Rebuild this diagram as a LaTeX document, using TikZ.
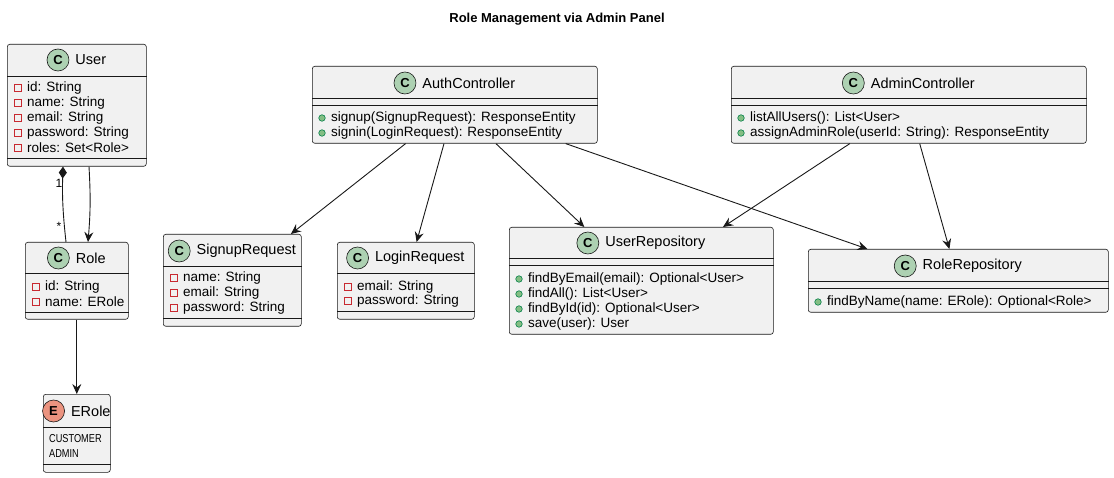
\documentclass[tikz,border=0pt]{standalone}
\usepackage{fontspec}
\setmainfont{Liberation Sans}
\newfontfamily\condfont[FakeStretch=0.8]{Liberation Sans}
\usepackage{tikz}
\usetikzlibrary{arrows.meta,calc,positioning}

\definecolor{boxfill}{HTML}{F1F1F1}
\definecolor{boxline}{HTML}{181818}
\definecolor{classspot}{HTML}{ADD1B2}
\definecolor{enumspot}{HTML}{EB937F}
\definecolor{privred}{HTML}{C82930}
\definecolor{pubfill}{HTML}{84BE84}
\definecolor{publine}{HTML}{038048}

\tikzset{
  classbox/.style={draw=boxline, fill=boxfill, line width=0.6pt, rounded corners=2.5pt, anchor=north west, inner sep=0pt},
  sepline/.style={draw=boxline, line width=0.6pt},
  headname/.style={inner sep=0pt, font=\fontsize{14.5}{16}\selectfont},
  spot/.style={circle, draw=boxline, line width=0.6pt, minimum size=22pt, inner sep=0pt, font=\bfseries\fontsize{13}{15}\selectfont},
  member/.style={anchor=west, inner sep=0pt, font=\fontsize{13.5}{15}\selectfont},
  enumtext/.style={anchor=west, inner sep=0pt, font=\condfont\fontsize{11.5}{13}\selectfont},
  privmark/.style={draw=privred, line width=0.8pt, minimum size=6.5pt, inner sep=0pt},
  pubmark/.style={circle, draw=publine, fill=pubfill, line width=0.6pt, minimum size=6.5pt, inner sep=0pt},
  assoc/.style={draw=boxline, line width=0.9pt, -{Stealth[length=10pt,width=9pt,inset=3.5pt]}},
  comp/.style={draw=boxline, line width=0.9pt, {Diamond[length=12pt,width=8pt]}-},
  mult/.style={inner sep=0pt, font=\fontsize{12}{14}\selectfont}
}

% class header: node, spot colour, letter, name, offset
\newcommand{\classhead}[5]{%
  \node[headname] (#1-name) at ($(#1.north)+(14,#5)$) {#4};
  \node[spot, fill=#2, left=6pt of #1-name] (#1-spot) {#3};}
\newcommand{\sepat}[2]{%
  \draw[sepline] ($(#1.north west)+(0,#2)$) -- ($(#1.north east)+(0,#2)$);}
\newcommand{\privattr}[3]{%
  \node[privmark] at ($(#1.north west)+(11,#2)$) {};
  \node[member] at ($(#1.north west)+(20,#2)$) {#3};}
\newcommand{\pubmeth}[3]{%
  \node[pubmark] at ($(#1.north west)+(10,#2)$) {};
  \node[member] at ($(#1.north west)+(19,#2)$) {#3};}
\newcommand{\enumval}[3]{%
  \node[enumtext] at ($(#1.north west)+(6,#2)$) {#3};}

\begin{document}
\begin{tikzpicture}[x=1pt,y=-1pt]
  \useasboundingbox (0,0) rectangle (1114,478);

  \node[font=\bfseries\fontsize{13}{15}\selectfont] (title) at (557,19) {Role Management via Admin Panel};

  % User
  \node[classbox, minimum width=139pt, minimum height=122pt] (user) at (7,44) {};
  \classhead{user}{classspot}{C}{User}{16}
  \sepat{user}{32}
  \privattr{user}{44}{id: String}
  \privattr{user}{59}{name: String}
  \privattr{user}{74}{email: String}
  \privattr{user}{89}{password: String}
  \privattr{user}{104}{roles: Set<Role>}
  \sepat{user}{114}

  % Role
  \node[classbox, minimum width=103pt, minimum height=77pt] (role) at (25,242) {};
  \classhead{role}{classspot}{C}{Role}{16}
  \sepat{role}{31}
  \privattr{role}{45}{id: String}
  \privattr{role}{60}{name: ERole}
  \sepat{role}{70}

  % ERole
  \node[classbox, minimum width=67pt, minimum height=78pt] (erole) at (43,394) {};
  \classhead{erole}{enumspot}{E}{ERole}{17}
  \sepat{erole}{33}
  \enumval{erole}{45}{CUSTOMER}
  \enumval{erole}{60}{ADMIN}
  \sepat{erole}{70}

  % SignupRequest
  \node[classbox, minimum width=138pt, minimum height=92pt] (signupReq) at (163,234) {};
  \classhead{signupReq}{classspot}{C}{SignupRequest}{17}
  \sepat{signupReq}{32}
  \privattr{signupReq}{44}{name: String}
  \privattr{signupReq}{59}{email: String}
  \privattr{signupReq}{74}{password: String}
  \sepat{signupReq}{84}

  % LoginRequest
  \node[classbox, minimum width=137pt, minimum height=77pt] (loginReq) at (337,242) {};
  \classhead{loginReq}{classspot}{C}{LoginRequest}{16}
  \sepat{loginReq}{31}
  \privattr{loginReq}{45}{email: String}
  \privattr{loginReq}{59}{password: String}
  \sepat{loginReq}{69}

  % AuthController
  \node[classbox, minimum width=285pt, minimum height=77pt] (authCtrl) at (312,66) {};
  \classhead{authCtrl}{classspot}{C}{AuthController}{17}
  \sepat{authCtrl}{32}
  \sepat{authCtrl}{39}
  \pubmeth{authCtrl}{52}{signup(SignupRequest): ResponseEntity}
  \pubmeth{authCtrl}{67}{signin(LoginRequest): ResponseEntity}

  % AdminController
  \node[classbox, minimum width=355pt, minimum height=77pt] (adminCtrl) at (731,66) {};
  \classhead{adminCtrl}{classspot}{C}{AdminController}{17}
  \sepat{adminCtrl}{32}
  \sepat{adminCtrl}{39}
  \pubmeth{adminCtrl}{52}{listAllUsers(): List<User>}
  \pubmeth{adminCtrl}{67}{assignAdminRole(userId: String): ResponseEntity}

  % UserRepository
  \node[classbox, minimum width=264pt, minimum height=107pt] (userRepo) at (509,227) {};
  \classhead{userRepo}{classspot}{C}{UserRepository}{16}
  \sepat{userRepo}{31}
  \sepat{userRepo}{38}
  \pubmeth{userRepo}{52}{findByEmail(email): Optional<User>}
  \pubmeth{userRepo}{67}{findAll(): List<User>}
  \pubmeth{userRepo}{82}{findById(id): Optional<User>}
  \pubmeth{userRepo}{97}{save(user): User}

  % RoleRepository
  \node[classbox, minimum width=300pt, minimum height=63pt] (roleRepo) at (808,249) {};
  \classhead{roleRepo}{classspot}{C}{RoleRepository}{17}
  \sepat{roleRepo}{32}
  \sepat{roleRepo}{39}
  \pubmeth{roleRepo}{53}{findByName(name: ERole): Optional<Role>}

  % links
  \draw[comp] ($(user.south west)+(56,0)$) to[bend right=4] ($(role.north west)+(41,0)$);
  \node[mult] (oneLbl) at (59,183) {1};
  \node[mult] (manyLbl) at (59,226) {*};
  \draw[assoc] ($(user.south west)+(82,0)$) to[bend left=4] ($(role.north west)+(63,0)$);
  \draw[assoc] (role) -- (erole);

  \draw[assoc] (authCtrl) -- (signupReq);
  \draw[assoc] (authCtrl) -- (loginReq);
  \draw[assoc] (authCtrl) -- (userRepo);
  \draw[assoc] (authCtrl) -- (roleRepo);
  \draw[assoc] (adminCtrl) -- (userRepo);
  \draw[assoc] (adminCtrl) -- (roleRepo);
\end{tikzpicture}
\end{document}
